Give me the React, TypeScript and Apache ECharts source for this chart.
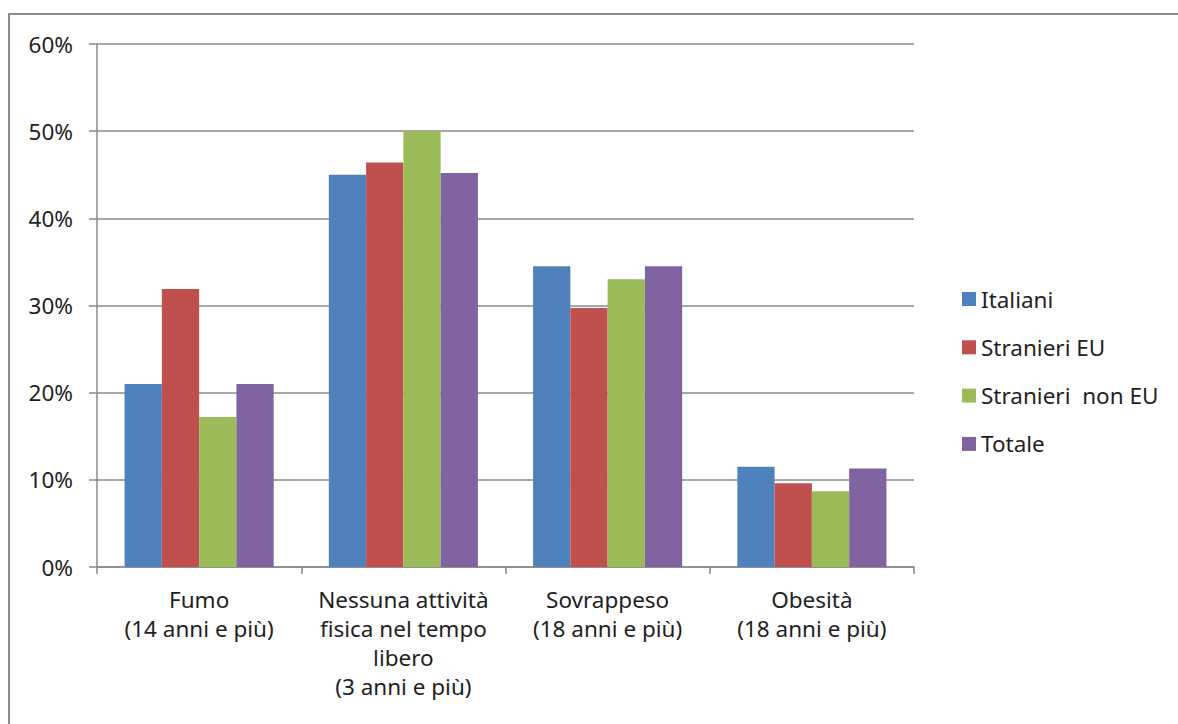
import React, { useEffect, useRef } from "react";
import * as echarts from "echarts";

const categories = [
  "Fumo\n(14 anni e più)",
  "Nessuna attività\nfisica nel tempo\nlibero\n(3 anni e più)",
  "Sovrappeso\n(18 anni e più)",
  "Obesità\n(18 anni e più)",
];
const seriesNames = ["Italiani", "Stranieri EU", "Stranieri  non EU", "Totale"];
const italiani = [21, 45, 34.5, 11.5];
const stranieriEU = [31.9, 46.4, 29.7, 9.6];
const stranieriNonEU = [17.2, 50, 33, 8.7];
const totale = [21, 45.2, 34.5, 11.3];
const colors = ["#4F81BD", "#C0504D", "#9BBB59", "#8064A2"];
const yTicks = { min: 0, max: 60, interval: 10 };

export default function App() {
  const ref = useRef<HTMLDivElement>(null);
  useEffect(() => {
    if (!ref.current) return;
    const chart = echarts.init(ref.current, undefined, { renderer: "svg" });
    const font = "Noto Sans";
    const textColor = "#1f1f1f";
    const fs = 22.5;
    const dataSets = [italiani, stranieriEU, stranieriNonEU, totale];
    chart.setOption({
      animation: false,
      backgroundColor: "#ffffff",
      graphic: [
        {
          type: "rect",
          shape: { x: 9, y: 14, width: 1250, height: 800 },
          style: { fill: "none", stroke: "#8c8c8c", lineWidth: 2 },
          silent: true,
        },
      ],
      grid: { left: 97, right: 264, top: 44, bottom: 157, containLabel: false },
      legend: {
        orient: "vertical",
        left: 962,
        top: 287,
        padding: 0,
        itemWidth: 14,
        itemHeight: 14,
        itemGap: 24.3,
        icon: "rect",
        data: seriesNames,
        textStyle: { fontFamily: font, fontSize: fs, color: textColor, lineHeight: 24 },
      },
      xAxis: {
        type: "category",
        data: categories,
        axisLine: { show: true, lineStyle: { color: "#8a8a8a", width: 1.5 } },
        axisTick: { show: true, length: 7, lineStyle: { color: "#8a8a8a", width: 1.5 } },
        axisLabel: {
          interval: 0,
          margin: 18,
          fontFamily: font,
          fontSize: fs,
          lineHeight: 29,
          color: textColor,
          align: "center",
        },
      },
      yAxis: {
        type: "value",
        min: yTicks.min,
        max: yTicks.max,
        interval: yTicks.interval,
        axisLine: { show: true, lineStyle: { color: "#8a8a8a", width: 1.5 } },
        axisTick: { show: true, length: 8, lineStyle: { color: "#8a8a8a", width: 1.5 } },
        splitLine: { show: true, lineStyle: { color: "#8a8a8a", width: 1.5 } },
        axisLabel: {
          formatter: "{value}%",
          margin: 24,
          fontFamily: font,
          fontSize: fs,
          color: textColor,
        },
      },
      series: seriesNames.map((name, i) => ({
        name,
        type: "bar",
        data: dataSets[i],
        itemStyle: { color: colors[i] },
        barGap: "0%",
        barCategoryGap: "27%",
      })),
    });
    return () => chart.dispose();
  }, []);
  return (
    <div
      ref={ref}
      style={{ position: "fixed", left: 0, top: 0, width: 1178, height: 724, background: "#fff" }}
    />
  );
}
